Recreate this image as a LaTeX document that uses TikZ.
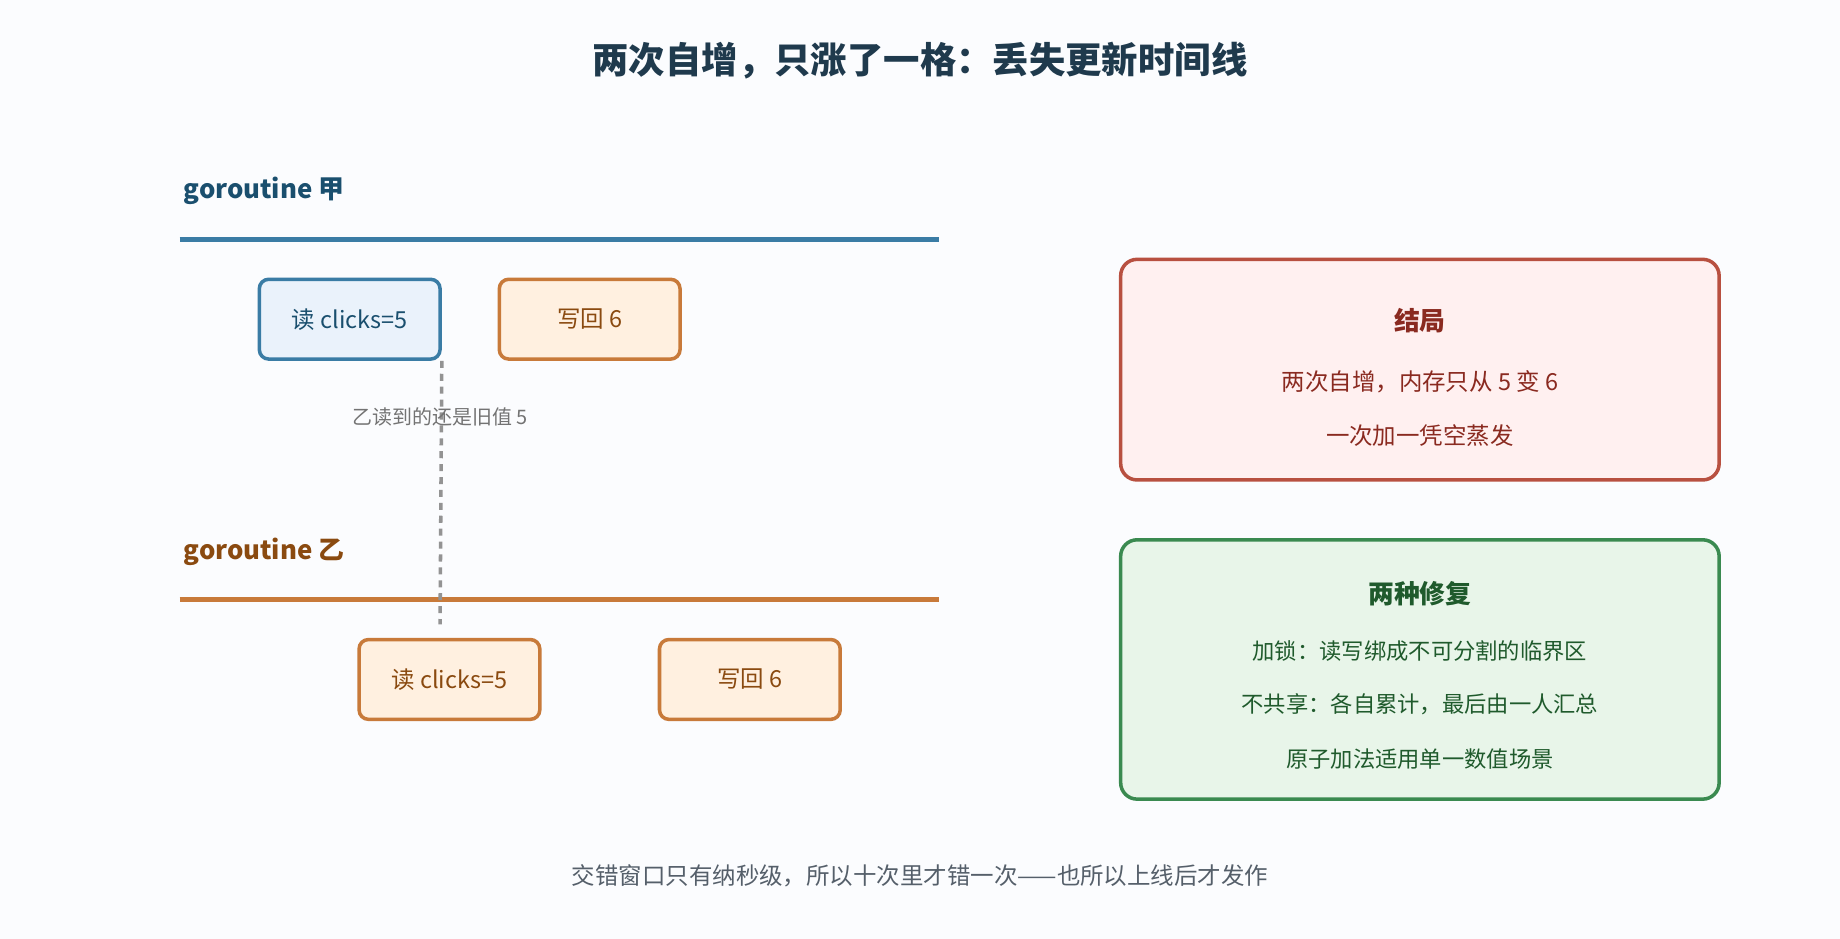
\documentclass[tikz,border=0pt]{standalone}
\usepackage{fontspec}
\setmainfont{Noto Sans CJK SC}
\usetikzlibrary{positioning}
\definecolor{bgcol}{HTML}{FBFCFE}
\definecolor{titlecol}{HTML}{1F3A4D}
\definecolor{jiacol}{HTML}{3A7CA5}
\definecolor{jiatext}{HTML}{1A4F6E}
\definecolor{jiafill}{HTML}{EAF2FB}
\definecolor{yicol}{HTML}{C87A3A}
\definecolor{yitext}{HTML}{8A4A10}
\definecolor{yifill}{HTML}{FFF0E0}
\definecolor{redcol}{HTML}{B85040}
\definecolor{redfill}{HTML}{FFF0F0}
\definecolor{redtext}{HTML}{8A2A20}
\definecolor{greencol}{HTML}{3A8A50}
\definecolor{greenfill}{HTML}{E8F5E9}
\definecolor{greentext}{HTML}{1F5A2C}
\definecolor{notecol}{HTML}{555F6A}
\tikzset{
  step box/.style={draw, line width=3pt, rounded corners=8pt,
    minimum width=154pt, minimum height=68pt, font=\fontsize{20}{24}\selectfont},
  jia box/.style={step box, draw=jiacol, fill=jiafill, text=jiatext},
  yi box/.style={step box, draw=yicol, fill=yifill, text=yitext},
  lane label/.style={anchor=west, font=\fontsize{22}{26}\selectfont\bfseries},
  lane/.style={line width=4pt},
  panel/.style={draw, line width=3pt, rounded corners=14pt,
    minimum width=510pt},
}
\begin{document}
\begin{tikzpicture}[x=1pt,y=-1pt]
\fill[bgcol] (0,0) rectangle (1568,800);
\useasboundingbox (0,0) rectangle (1568,800);
% title
\node[font=\fontsize{31}{36}\selectfont\bfseries, text=titlecol] (title) at (784,52) {两次自增，只涨了一格：丢失更新时间线};
% goroutine jia
\node[lane label, text=jiatext] (jia) at (153,163) {goroutine 甲};
\draw[lane, jiacol] (153,204) coordinate (jiaL) -- (800,204) coordinate (jiaR);
\node[jia box] (jread) at (298,272) {读 clicks=5};
\node[yi box] (jwrite) at (502.5,272) {写回 6};
% goroutine yi
\node[lane label, text=yitext] (yi) at (153,470) {goroutine 乙};
\draw[lane, yicol] (153,511) coordinate (yiL) -- (800,511) coordinate (yiR);
\node[yi box] (yread) at (383,579) {读 clicks=5};
\node[yi box] (ywrite) at (639,579) {写回 6};
% stale read
\coordinate (sTop) at (jread.south east);
\coordinate (sBot) at (375,532);
\draw[gray!85, line width=3pt, dash pattern=on 6pt off 5pt] (sTop) -- (sBot);
\node[text=gray!90!black, font=\fontsize{17}{20}\selectfont] (stale) at (375,355) {乙读到的还是旧值 5};
% result panel
\node[panel, draw=redcol, fill=redfill, minimum height=188pt] (result) at (1210,315) {};
\node[text=redtext, font=\fontsize{22}{26}\selectfont\bfseries] at (1210,273) {结局};
\node[text=redtext, font=\fontsize{20}{24}\selectfont] at (1210,325) {两次自增，内存只从 5 变 6};
\node[text=redtext, font=\fontsize{20}{24}\selectfont] at (1210,371) {一次加一凭空蒸发};
% fix panel
\node[panel, draw=greencol, fill=greenfill, minimum height=221pt] (fix) at (1210,570.5) {};
\node[text=greentext, font=\fontsize{22}{26}\selectfont\bfseries] at (1210,506) {两种修复};
\node[text=greentext, font=\fontsize{19}{23}\selectfont] at (1210,555) {加锁：读写绑成不可分割的临界区};
\node[text=greentext, font=\fontsize{19}{23}\selectfont] at (1210,600) {不共享：各自累计，最后由一人汇总};
\node[text=greentext, font=\fontsize{19}{23}\selectfont] at (1210,647) {原子加法适用单一数值场景};
% footer
\node[text=notecol, font=\fontsize{20}{24}\selectfont] (note) at (784,746) {交错窗口只有纳秒级，所以十次里才错一次——也所以上线后才发作};
\end{tikzpicture}
\end{document}
